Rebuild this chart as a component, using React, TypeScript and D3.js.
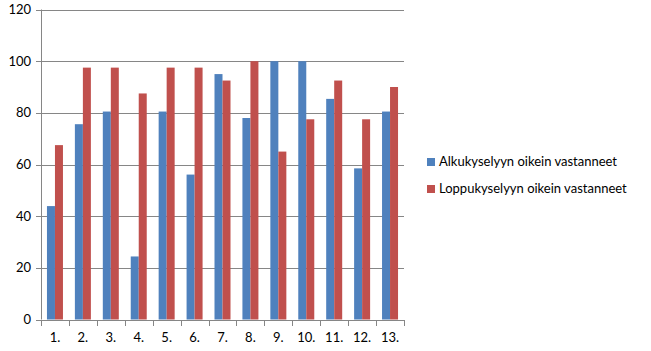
import { useEffect, useRef } from "react";
import * as d3 from "d3";

const W = 651;
const H = 351;

const categories = ["1.", "2.", "3.", "4.", "5.", "6.", "7.", "8.", "9.", "10.", "11.", "12.", "13."];
const alkuValues = [43.9, 75.6, 80.5, 24.4, 80.5, 56.1, 95, 78, 100, 100, 85.4, 58.5, 80.5];
const loppuValues = [67.5, 97.5, 97.5, 87.5, 97.5, 97.5, 92.5, 100, 65, 77.5, 92.5, 77.5, 90];
const yTicks = [0, 20, 40, 60, 80, 100, 120];
const seriesNames = ["Alkukyselyyn oikein vastanneet", "Loppukyselyyn oikein vastanneet"];
const seriesColors = ["#4F81BD", "#C0504D"];

const PLOT = { left: 41, right: 404, top: 9.5, bottom: 319.5 };
const FONT = "Lato, 'Open Sans', sans-serif";

export default function App() {
  const svgRef = useRef<SVGSVGElement | null>(null);

  useEffect(() => {
    const svg = d3.select(svgRef.current);
    svg.selectAll("*").remove();

    const x = d3.scaleBand<string>().domain(categories).range([PLOT.left, PLOT.right]);
    const y = d3.scaleLinear().domain([0, 120]).range([PLOT.bottom, PLOT.top]);
    const inner = d3.scaleBand<number>().domain([0, 1]).range([0, 16]);

    // gridlines, with short ticks left of the axis
    yTicks.forEach((t) => {
      svg
        .append("line")
        .attr("x1", PLOT.left - 5)
        .attr("x2", PLOT.right)
        .attr("y1", Math.round(y(t)) + 0.5)
        .attr("y2", Math.round(y(t)) + 0.5)
        .attr("stroke", "#868686")
        .attr("stroke-width", 1);
      svg
        .append("text")
        .attr("x", PLOT.left - 10)
        .attr("y", y(t) + 4.5)
        .attr("text-anchor", "end")
        .attr("font-family", FONT)
        .attr("font-size", 13)
        .attr("fill", "#000")
        .text(t);
    });

    // bars
    const series = [alkuValues, loppuValues];
    series.forEach((vals, si) => {
      svg
        .append("g")
        .selectAll("rect")
        .data(vals)
        .join("rect")
        .attr("x", (_, i) => x(categories[i])! + x.bandwidth() / 2 - 8 + inner(si)!)
        .attr("width", inner.bandwidth())
        .attr("y", (d) => y(d))
        .attr("height", (d) => y(0) - y(d))
        .attr("fill", seriesColors[si]);
    });

    // y axis line
    svg
      .append("line")
      .attr("x1", PLOT.left + 0.5)
      .attr("x2", PLOT.left + 0.5)
      .attr("y1", PLOT.top)
      .attr("y2", PLOT.bottom)
      .attr("stroke", "#868686");

    // x axis with ticks at category boundaries
    svg
      .append("line")
      .attr("x1", PLOT.left)
      .attr("x2", PLOT.right)
      .attr("y1", Math.round(y(0)) + 0.5)
      .attr("y2", Math.round(y(0)) + 0.5)
      .attr("stroke", "#868686");
    const bounds = categories.map((c) => x(c)!).concat([PLOT.right]);
    bounds.forEach((bx) => {
      svg
        .append("line")
        .attr("x1", Math.round(bx) + 0.5)
        .attr("x2", Math.round(bx) + 0.5)
        .attr("y1", Math.round(y(0)))
        .attr("y2", Math.round(y(0)) + 6)
        .attr("stroke", "#868686");
    });
    categories.forEach((c) => {
      svg
        .append("text")
        .attr("x", x(c)! + x.bandwidth() / 2)
        .attr("y", 342)
        .attr("text-anchor", "middle")
        .attr("font-family", FONT)
        .attr("font-size", 13)
        .attr("fill", "#000")
        .text(c);
    });

    // legend
    seriesNames.forEach((name, i) => {
      const ly = 158 + i * 27;
      svg
        .append("rect")
        .attr("x", 427)
        .attr("y", ly)
        .attr("width", 8)
        .attr("height", 8)
        .attr("fill", seriesColors[i]);
      svg
        .append("text")
        .attr("x", 439)
        .attr("y", ly + 8)
        .attr("font-family", FONT)
        .attr("font-size", 13)
        .attr("fill", "#000")
        .text(name);
    });
  }, []);

  return (
    <div style={{ position: "fixed", left: 0, top: 0, background: "#fff" }}>
      <svg ref={svgRef} width={W} height={H} style={{ display: "block" }} />
    </div>
  );
}
